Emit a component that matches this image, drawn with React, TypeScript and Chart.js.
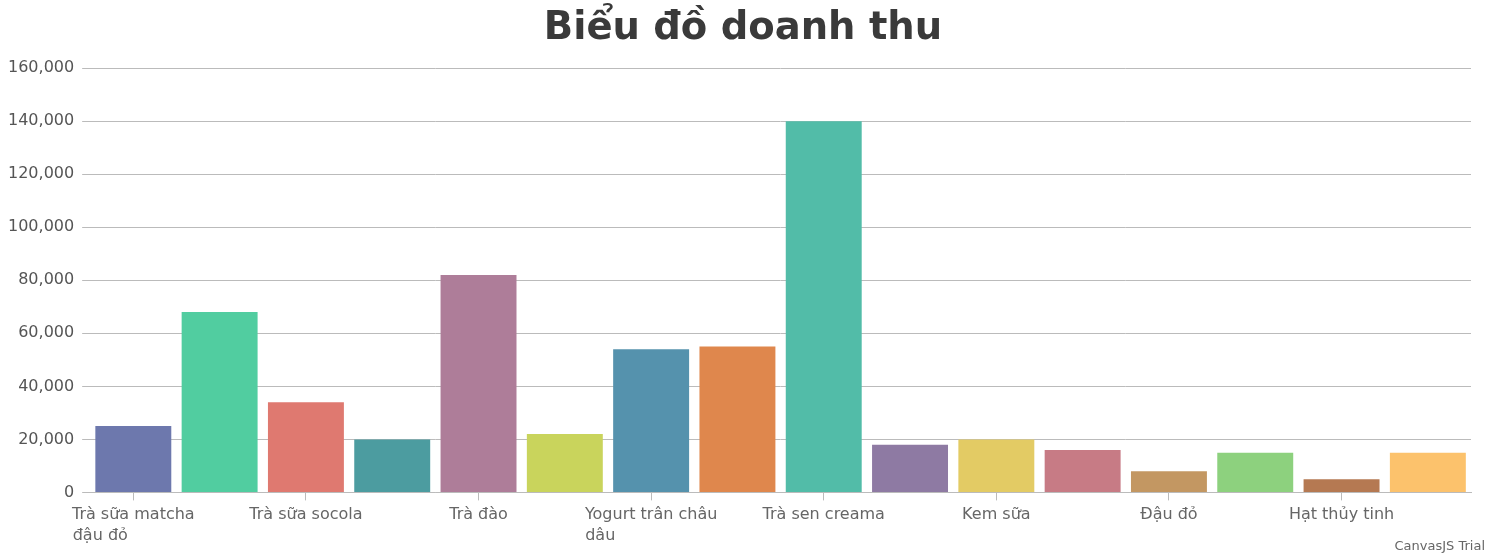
import React, { useEffect, useRef } from "react";
import { Chart, registerables } from "chart.js";

Chart.register(...registerables);

const titleText = "Biểu đồ doanh thu";
const categories: string[][] = [
  ["Trà sữa matcha", "đậu đỏ"],
  ["Trà sữa truyền thống"],
  ["Trà sữa socola"],
  ["Trà sữa bạc hà"],
  ["Trà đào"],
  ["Trà chanh"],
  ["Yogurt trân châu", "dâu"],
  ["Trà sữa khoai môn"],
  ["Trà sen creama"],
  ["Trà xanh"],
  ["Kem sữa"],
  ["Pudding trứng"],
  ["Đậu đỏ"],
  ["Thạch dừa"],
  ["Hạt thủy tinh"],
  ["Trân châu trắng"],
];
const revenue: number[] = [
  25000, 68000, 34000, 20000, 82000, 22000, 54000, 55000,
  140000, 18000, 20000, 16000, 8000, 15000, 5000, 15000,
];
const barColors: string[] = [
  "#6D78AD", "#51CDA0", "#DF7970", "#4C9CA0", "#AE7D99", "#C9D45C", "#5592AD", "#DF874D",
  "#52BCA8", "#8E7AA3", "#E3CB64", "#C77B85", "#C39762", "#8DD17E", "#B57952", "#FCC26C",
];
const yTicks: number[] = [0, 20000, 40000, 60000, 80000, 100000, 120000, 140000, 160000];

const FONT = "'DejaVu Sans', sans-serif";
const TICK_SIZE = 16;

function padLines(lines: string[]): string[] {
  if (lines.length < 2) return lines;
  const c = document.createElement("canvas").getContext("2d")!;
  c.font = `${TICK_SIZE}px ${FONT}`;
  const w0 = c.measureText(lines[0]).width;
  return lines.map((l, i) => {
    if (i === 0) return l;
    let s = l;
    while (c.measureText(s + " ").width <= w0 + 1) s += " ";
    return s;
  });
}

export default function App() {
  const ref = useRef<HTMLCanvasElement | null>(null);
  useEffect(() => {
    if (!ref.current) return;
    const chart = new Chart(ref.current, {
      type: "bar",
      data: {
        labels: categories,
        datasets: [
          {
            data: revenue,
            backgroundColor: barColors,
            barPercentage: 0.88,
            categoryPercentage: 1,
          },
        ],
      },
      options: {
        responsive: false,
        animation: false,
        layout: { padding: { left: 0, right: 0, top: 0, bottom: 5 } },
        plugins: {
          legend: { display: false },
          tooltip: { enabled: false },
          title: {
            display: true,
            text: titleText,
            color: "#3A3A3A",
            font: { family: FONT, size: 38.5, weight: "bold" },
            padding: { top: 6, bottom: 16 },
          },
        },
        scales: {
          x: {
            grid: {
              offset: false,
              drawOnChartArea: false,
              tickLength: 8,
              tickColor: (ctx: any) => (ctx.index % 2 === 0 ? "#BBBBBB" : "rgba(0,0,0,0)"),
            },
            border: { color: "#BBBBBB" },
            ticks: {
              autoSkip: false,
              maxRotation: 0,
              padding: 4,
              color: "#666666",
              font: { family: FONT, size: TICK_SIZE, lineHeight: 1.3 },
              callback: (_v: any, i: number) => (i % 2 === 0 ? padLines(categories[i]) : ""),
            },
          },
          y: {
            min: 0,
            max: yTicks[yTicks.length - 1],
            afterBuildTicks: (scale: any) => {
              scale.ticks = yTicks.map((v) => ({ value: v }));
            },
            grid: { color: "#BBBBBB", tickLength: 8, tickColor: "#BBBBBB" },
            border: { display: false },
            ticks: {
              padding: 8,
              color: "#555555",
              font: { family: FONT, size: TICK_SIZE },
              callback: (v: any) => Number(v).toLocaleString("en-US"),
            },
          },
          yRight: {
            position: "right",
            min: 0,
            max: yTicks[yTicks.length - 1],
            grid: { drawOnChartArea: false, drawTicks: false },
            border: { display: false },
            ticks: { display: false },
            afterFit: (scale: any) => {
              scale.width = 15;
            },
          },
        },
      },
    });
    return () => chart.destroy();
  }, []);
  return (
    <div style={{ position: "fixed", left: 0, top: 0, width: 1486, height: 555, background: "#fff" }}>
      <canvas ref={ref} width={1486} height={555} />
      <span
        style={{
          position: "absolute",
          right: 1,
          bottom: 2,
          fontFamily: FONT,
          fontSize: 13,
          color: "#666",
        }}
      >
        CanvasJS Trial
      </span>
    </div>
  );
}
